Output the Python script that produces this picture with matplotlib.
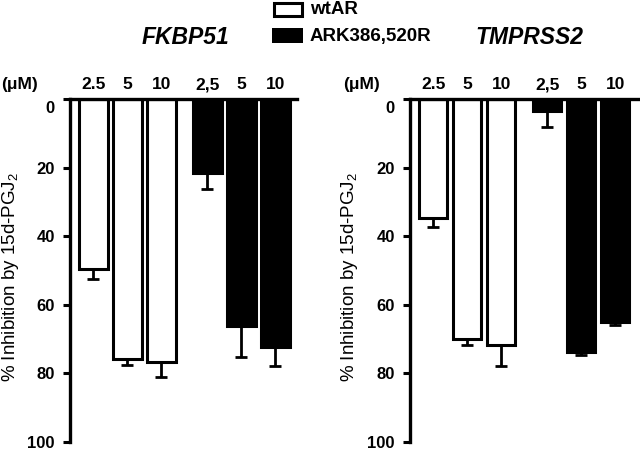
import matplotlib
matplotlib.use("Agg")
import matplotlib.pyplot as plt
from matplotlib.patches import Rectangle

plt.rcParams['font.family'] = ['Liberation Sans', 'DejaVu Sans']
plt.rcParams['mathtext.fontset'] = 'custom'
plt.rcParams['mathtext.rm'] = 'Liberation Sans'
plt.rcParams['mathtext.default'] = 'regular'

# data
dose_labels = ['2.5', '5', '10', '2,5', '5', '10']
is_mutant = [False, False, False, True, True, True]

fkbp51_mean = [49.6, 75.8, 76.8, 21.7, 66.2, 72.4]
fkbp51_err = [2.9, 1.7, 4.2, 4.6, 8.9, 5.3]

tmprss2_mean = [34.7, 70.0, 71.7, 3.4, 73.9, 65.1]
tmprss2_err = [2.7, 1.7, 6.0, 4.7, 0.7, 0.7]

yticks = [0, 20, 40, 60, 80, 100]

W, H = 640, 451
fig = plt.figure(figsize=(W / 100, H / 100), dpi=100)

xpos = [0, 1, 2, 3.35, 4.35, 5.35]


def fx(px):
    return px / W


def fy(py):
    return 1 - py / H


def panel(left_px, right_px, means, errs, xlim, ylab_x, um_x):
    ax = fig.add_axes([fx(left_px), fy(442), fx(right_px - left_px), (442 - 99) / H])
    colors = ['black' if m else 'white' for m in is_mutant]
    ax.bar(xpos, means, width=0.84, color=colors, edgecolor='black', linewidth=2.2, zorder=2)
    ax.errorbar(xpos, means, yerr=[[0] * len(errs), errs], fmt='none', ecolor='black',
                elinewidth=2.0, capsize=4, capthick=2.0, zorder=1)
    ax.set_ylim(100, 0)
    ax.set_xlim(*xlim)
    for s in ['right', 'bottom']:
        ax.spines[s].set_visible(False)
    for s in ['left', 'top']:
        ax.spines[s].set_linewidth(2.4)
    ax.set_yticks(yticks)
    # the "0" label sits a bit below the top spine, so it is drawn by hand
    ax.set_yticklabels([''] + [str(t) for t in yticks[1:]], fontweight='bold', fontsize=12)
    ax.text(-15 / (right_px - left_px), 0.5, '0', transform=ax.get_yaxis_transform(),
            ha='right', va='top', fontweight='bold', fontsize=12)
    ax.tick_params(axis='y', direction='out', length=5, width=2.2, pad=6)
    ax.xaxis.tick_top()
    ax.set_xticks(xpos)
    ax.set_xticklabels(dose_labels, fontweight='bold', fontsize=12.5)
    ax.tick_params(axis='x', length=0, pad=5)
    fig.text(fx(ylab_x), fy(277), '% Inhibition by 15d-PGJ$_2$', rotation=90,
             ha='center', va='center', fontsize=13.5)
    fig.text(fx(um_x), fy(85), '(\u03bcM)', ha='center', va='center',
             fontweight='bold', fontsize=12.5)
    return ax


panel(70, 297, fkbp51_mean, fkbp51_err, (-0.69, 5.99), 11, 19)
panel(410, 640, tmprss2_mean, tmprss2_err, (-0.68, 6.08), 349, 361)

# titles
fig.text(fx(185), fy(37), 'FKBP51', ha='center', va='center', fontsize=16.5,
         fontweight='bold', fontstyle='italic')
fig.text(fx(529), fy(37), 'TMPRSS2', ha='center', va='center', fontsize=16.5,
         fontweight='bold', fontstyle='italic')

# legend
fig.add_artist(Rectangle((fx(273.5), fy(16)), fx(28), (16 - 3) / H, facecolor='white',
                         edgecolor='black', linewidth=2.2, transform=fig.transFigure))
fig.add_artist(Rectangle((fx(272), fy(43)), fx(31), (43 - 28) / H, facecolor='black',
                         edgecolor='black', linewidth=0, transform=fig.transFigure))
fig.text(fx(310), fy(9), 'wtAR', ha='left', va='center', fontsize=13.5, fontweight='bold')
fig.text(fx(310), fy(36), 'ARK386,520R', ha='left', va='center', fontsize=13.5, fontweight='bold')

fig.savefig('out.png', dpi=100)
